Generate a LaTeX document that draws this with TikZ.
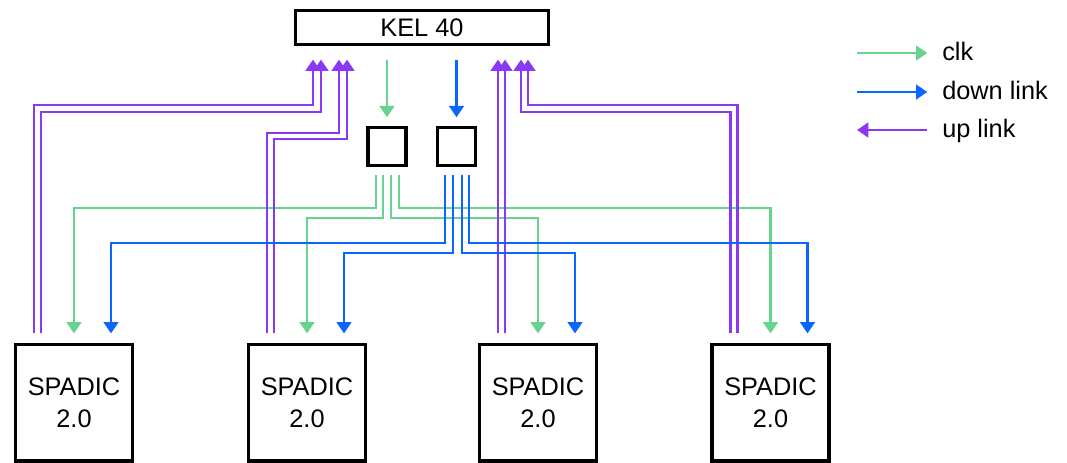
\documentclass[tikz,border=0pt]{standalone}
\usepackage{fontspec}
\setmainfont{Liberation Sans}
\usetikzlibrary{arrows.meta}
\definecolor{clkgreen}{RGB}{102,211,142}
\definecolor{dnblue}{RGB}{10,102,255}
\definecolor{uppurple}{RGB}{138,56,245}
\tikzset{
  box/.style={draw=black, line width=2.4pt, inner sep=0pt, align=center,
    font=\fontsize{19}{24}\selectfont},
  lbl/.style={inner sep=0pt, font=\fontsize{19}{24}\selectfont},
  arrtip/.style={-{Triangle[width=11pt,length=8.5pt]}},
  clkline/.style={arrtip, draw=clkgreen, line width=1.9pt},
  dnline/.style={arrtip, draw=dnblue, line width=1.9pt},
  upline/.style={arrtip, draw=uppurple, line width=2pt},
  fromspadic/.style={shorten <=7.1pt},
  tospadic/.style={shorten >=7.1pt},
  tokel/.style={shorten >=10.1pt},
  fromsmall/.style={shorten <=5.6pt},
}
\begin{document}
\begin{tikzpicture}[x=0.75pt,y=-0.75pt]
\useasboundingbox (0,0) rectangle (1067,462);
% boxes
\node[box, minimum width=190pt, minimum height=25.5pt] (kel) at (422,27.5) {KEL 40};
\node[box, minimum width=28.5pt, minimum height=28.5pt] (b1) at (387,146.5) {};
\node[box, minimum width=28.5pt, minimum height=28.5pt] (b2) at (456.5,146.5) {};
\node[box, minimum width=87.75pt, minimum height=87.4pt] (s1) at (74,402.75) {SPADIC\\2.0};
\node[box, minimum width=87.75pt, minimum height=87.4pt] (s2) at (307,402.75) {SPADIC\\2.0};
\node[box, minimum width=87.75pt, minimum height=87.4pt] (s3) at (538,402.75) {SPADIC\\2.0};
\node[box, minimum width=87.75pt, minimum height=87.4pt] (s4) at (770.5,402.75) {SPADIC\\2.0};
% helper coordinates on SPADIC tops
\foreach \i in {1,2,3,4}{
  \coordinate (d\i) at ([xshift=27.75pt]s\i.north);
  \coordinate (ua\i) at ([xshift=-30pt]s\i.north);
  \coordinate (ub\i) at ([xshift=-24.75pt]s\i.north);
}
% clk (green)
\draw[clkline, shorten <=10.5pt, shorten >=6.5pt] (kel.south -| b1.north) -- (b1.north);
\draw[clkline, fromsmall, tospadic] (376,0 |- b1.south) |- (s1.north |- 0,208) -- (s1.north);
\draw[clkline, fromsmall, tospadic] (383,0 |- b1.south) |- (s2.north |- 0,218) -- (s2.north);
\draw[clkline, fromsmall, tospadic] (391,0 |- b1.south) |- (s3.north |- 0,218) -- (s3.north);
\draw[clkline, fromsmall, tospadic] (399,0 |- b1.south) |- (s4.north |- 0,208) -- (s4.north);
% up link (purple)
\draw[upline, fromspadic, tokel] (ua1) |- (313,105) -- (313,0 |- kel.south);
\draw[upline, fromspadic, tokel] (ub1) |- (321,112) -- (321,0 |- kel.south);
\draw[upline, fromspadic, tokel] (ua2) |- (339,133) -- (339,0 |- kel.south);
\draw[upline, fromspadic, tokel] (ub2) |- (347,139) -- (347,0 |- kel.south);
\draw[upline, fromspadic, tokel] (ua3) -- (ua3 |- kel.south);
\draw[upline, fromspadic, tokel] (ub3) -- (ub3 |- kel.south);
\draw[upline, fromspadic, tokel] (ua4) |- (521,112) -- (521,0 |- kel.south);
\draw[upline, fromspadic, tokel] (ub4) |- (528,105) -- (528,0 |- kel.south);
% down link (blue)
\draw[dnline, shorten <=10.5pt, shorten >=6.5pt] (kel.south -| b2.north) -- (b2.north);
\draw[dnline, fromsmall, tospadic] (445,0 |- b2.south) |- (d1 |- 0,243) -- (d1);
\draw[dnline, fromsmall, tospadic] (453,0 |- b2.south) |- (d2 |- 0,253) -- (d2);
\draw[dnline, fromsmall, tospadic] (462,0 |- b2.south) |- (d3 |- 0,253) -- (d3);
\draw[dnline, fromsmall, tospadic] (469,0 |- b2.south) |- (d4 |- 0,243) -- (d4);
% legend
\node[lbl, anchor=base west] (lclk) at (942,60) {clk};
\node[lbl, anchor=base west] (ldn) at (942,99) {down link};
\node[lbl, anchor=base west] (lup) at (942,137) {up link};
\coordinate (lc) at (857,53);
\coordinate (ld) at (857,92);
\coordinate (lu) at (857,130);
\draw[clkline, shorten >=11pt] (lc) -- (lc -| lclk.west);
\draw[dnline, shorten >=11pt] (ld) -- (ld -| ldn.west);
\draw[upline, shorten <=11pt] (lu -| lup.west) -- (lu);
\end{tikzpicture}
\end{document}
